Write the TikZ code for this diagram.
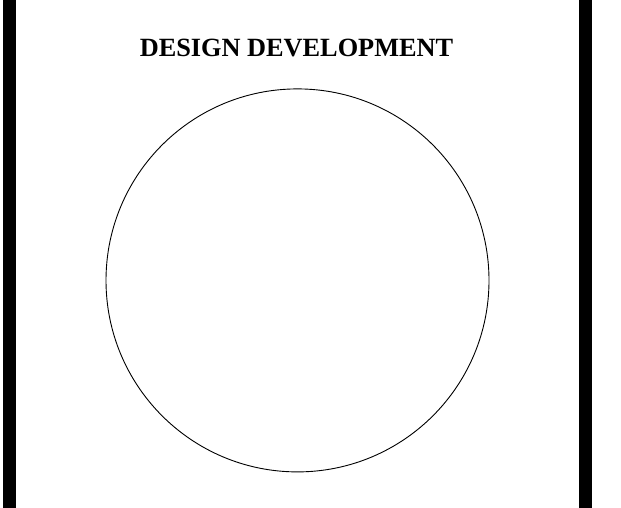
\documentclass[tikz,border=0pt]{standalone}
\usepackage{fontspec}
\setmainfont{Liberation Serif}
\usepackage{tikz}
\usetikzlibrary{positioning}
\tikzset{
  sidebar/.style={fill=black, draw=none},
  heading/.style={font=\fontsize{26.3}{30}\selectfont\bfseries, inner sep=0pt, anchor=base},
  ring/.style={circle, draw=black, line width=0.9pt, minimum size=383pt, inner sep=0pt}
}

\begin{document}
\begin{tikzpicture}[x=1pt, y=-1pt]
  \useasboundingbox[fill=white] (0,0) rectangle (621,508);
  \fill[sidebar] (3,0) rectangle (16,508);
  \fill[sidebar] (579,0) rectangle (592,508);

  \node[heading] (title) at (296.5,57) {DESIGN DEVELOPMENT};
  \node[ring] (cycle) at (297.5,280.4) {};
\end{tikzpicture}
\end{document}
